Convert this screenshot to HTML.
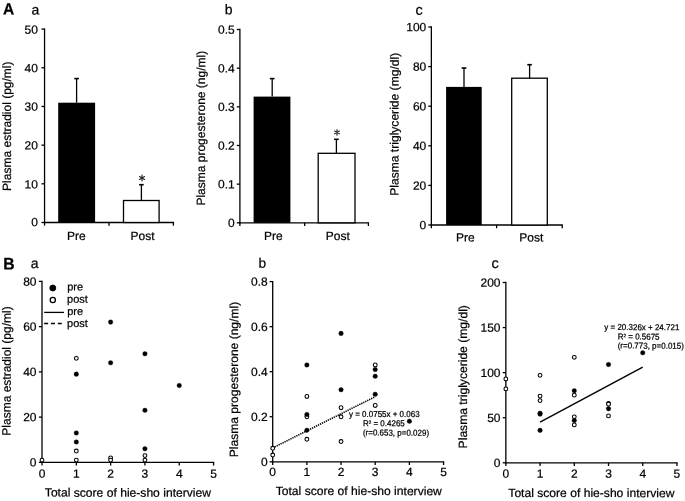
<!DOCTYPE html>
<html><head><meta charset="utf-8"><style>
html,body{margin:0;padding:0;background:#fff;}
svg{display:block;will-change:transform;}
text{font-family:"Liberation Sans", sans-serif;fill:#000;stroke:#000;stroke-width:0.22px;}
</style></head><body>
<svg width="685" height="501" viewBox="0 0 685 501">
<rect width="685" height="501" fill="#fff"/>
<text transform="matrix(1.04,0.001,0,1.09,3.05,14.45)" font-size="15" text-anchor="start" font-weight="bold" stroke="#000" stroke-width="0.2">A</text>
<text transform="matrix(1.0,0.001,0,1.0,31.56,14.45)" font-size="14" text-anchor="start" font-weight="normal" >a</text>
<line x1="44.55" y1="28.45" x2="44.55" y2="223.15" stroke="#000" stroke-width="1.3" />
<line x1="41.45" y1="222.50" x2="44.55" y2="222.50" stroke="#000" stroke-width="1.3" />
<text transform="matrix(1.0,0.001,0,1.0,37.90,226.33)" font-size="12" text-anchor="end" font-weight="normal" >0</text>
<line x1="41.45" y1="183.82" x2="44.55" y2="183.82" stroke="#000" stroke-width="1.3" />
<text transform="matrix(1.0,0.001,0,1.0,37.90,188.53)" font-size="12" text-anchor="end" font-weight="normal" >10</text>
<line x1="41.45" y1="145.14" x2="44.55" y2="145.14" stroke="#000" stroke-width="1.3" />
<text transform="matrix(1.0,0.001,0,1.0,37.90,149.63)" font-size="12" text-anchor="end" font-weight="normal" >20</text>
<line x1="41.45" y1="106.46" x2="44.55" y2="106.46" stroke="#000" stroke-width="1.3" />
<text transform="matrix(1.0,0.001,0,1.0,37.90,110.83)" font-size="12" text-anchor="end" font-weight="normal" >30</text>
<line x1="41.45" y1="67.78" x2="44.55" y2="67.78" stroke="#000" stroke-width="1.3" />
<text transform="matrix(1.0,0.001,0,1.0,37.90,72.33)" font-size="12" text-anchor="end" font-weight="normal" >40</text>
<line x1="41.45" y1="29.10" x2="44.55" y2="29.10" stroke="#000" stroke-width="1.3" />
<text transform="matrix(1.0,0.001,0,1.0,37.90,33.78)" font-size="12" text-anchor="end" font-weight="normal" >50</text>
<line x1="43.90" y1="222.50" x2="174.05" y2="222.50" stroke="#000" stroke-width="1.3" />
<line x1="44.55" y1="222.50" x2="44.55" y2="225.70" stroke="#000" stroke-width="1.3" />
<line x1="109.00" y1="222.50" x2="109.00" y2="225.70" stroke="#000" stroke-width="1.3" />
<line x1="173.40" y1="222.50" x2="173.40" y2="225.70" stroke="#000" stroke-width="1.3" />
<rect x="58.20" y="102.70" width="36.90" height="119.80" fill="#000"/>
<rect x="123.50" y="200.50" width="35.60" height="22.00" fill="#fff" stroke="#000" stroke-width="1.3"/>
<line x1="76.60" y1="102.70" x2="76.60" y2="78.60" stroke="#000" stroke-width="1.3" />
<line x1="74.30" y1="78.60" x2="78.90" y2="78.60" stroke="#000" stroke-width="1.6" />
<line x1="141.40" y1="200.50" x2="141.40" y2="184.70" stroke="#000" stroke-width="1.3" />
<line x1="139.10" y1="184.70" x2="143.70" y2="184.70" stroke="#000" stroke-width="1.6" />
<path d="M142.00,175.10L142.00,180.90M139.49,176.55L144.51,179.45M144.51,176.55L139.49,179.45" stroke="#222" stroke-width="1.1" stroke-linecap="round" fill="none"/>
<text transform="matrix(1.0,0.001,0,1.0,67.02,239.90)" font-size="12" text-anchor="start" font-weight="normal" >Pre</text>
<text transform="matrix(1.0,0.001,0,1.0,130.52,239.90)" font-size="12" text-anchor="start" font-weight="normal" >Post</text>
<text transform="matrix(0.001,-1.0,1,0.001,11.00,190.88)" font-size="12">Plasma estradiol (pg/ml)</text>
<text transform="matrix(1.0,0.001,0,1.0,224.85,14.35)" font-size="14" text-anchor="start" font-weight="normal" >b</text>
<line x1="239.90" y1="28.85" x2="239.90" y2="223.45" stroke="#000" stroke-width="1.3" />
<line x1="236.80" y1="222.80" x2="239.90" y2="222.80" stroke="#000" stroke-width="1.3" />
<text transform="matrix(1.0,0.001,0,1.0,234.70,227.05)" font-size="12" text-anchor="end" font-weight="normal" >0</text>
<line x1="236.80" y1="184.14" x2="239.90" y2="184.14" stroke="#000" stroke-width="1.3" />
<text transform="matrix(1.0,0.001,0,1.0,234.70,188.39)" font-size="12" text-anchor="end" font-weight="normal" >0.1</text>
<line x1="236.80" y1="145.48" x2="239.90" y2="145.48" stroke="#000" stroke-width="1.3" />
<text transform="matrix(1.0,0.001,0,1.0,234.70,149.73)" font-size="12" text-anchor="end" font-weight="normal" >0.2</text>
<line x1="236.80" y1="106.82" x2="239.90" y2="106.82" stroke="#000" stroke-width="1.3" />
<text transform="matrix(1.0,0.001,0,1.0,234.70,111.07)" font-size="12" text-anchor="end" font-weight="normal" >0.3</text>
<line x1="236.80" y1="68.16" x2="239.90" y2="68.16" stroke="#000" stroke-width="1.3" />
<text transform="matrix(1.0,0.001,0,1.0,234.70,72.41)" font-size="12" text-anchor="end" font-weight="normal" >0.4</text>
<line x1="236.80" y1="29.50" x2="239.90" y2="29.50" stroke="#000" stroke-width="1.3" />
<text transform="matrix(1.0,0.001,0,1.0,234.70,33.75)" font-size="12" text-anchor="end" font-weight="normal" >0.5</text>
<line x1="239.25" y1="222.80" x2="369.05" y2="222.80" stroke="#000" stroke-width="1.3" />
<line x1="239.90" y1="222.80" x2="239.90" y2="226.00" stroke="#000" stroke-width="1.3" />
<line x1="304.70" y1="222.80" x2="304.70" y2="226.00" stroke="#000" stroke-width="1.3" />
<line x1="368.40" y1="222.80" x2="368.40" y2="226.00" stroke="#000" stroke-width="1.3" />
<rect x="253.60" y="96.60" width="36.80" height="126.20" fill="#000"/>
<rect x="318.20" y="153.30" width="36.80" height="69.50" fill="#fff" stroke="#000" stroke-width="1.3"/>
<line x1="272.20" y1="96.60" x2="272.20" y2="78.60" stroke="#000" stroke-width="1.3" />
<line x1="269.90" y1="78.60" x2="274.50" y2="78.60" stroke="#000" stroke-width="1.6" />
<line x1="336.40" y1="153.30" x2="336.40" y2="139.30" stroke="#000" stroke-width="1.3" />
<line x1="334.10" y1="139.30" x2="338.70" y2="139.30" stroke="#000" stroke-width="1.6" />
<path d="M337.00,129.60L337.00,135.20M334.58,131.00L339.42,133.80M339.42,131.00L334.58,133.80" stroke="#222" stroke-width="1.1" stroke-linecap="round" fill="none"/>
<text transform="matrix(1.0,0.001,0,1.0,264.02,239.90)" font-size="12" text-anchor="start" font-weight="normal" >Pre</text>
<text transform="matrix(1.0,0.001,0,1.0,325.82,239.90)" font-size="12" text-anchor="start" font-weight="normal" >Post</text>
<text transform="matrix(0.001,-1.0,1,0.001,205.00,205.58)" font-size="12">Plasma progesterone (ng/ml)</text>
<text transform="matrix(1.0,0.001,0,1.0,415.38,14.75)" font-size="14.5" text-anchor="start" font-weight="normal" >c</text>
<line x1="431.35" y1="26.25" x2="431.35" y2="225.65" stroke="#000" stroke-width="1.3" />
<line x1="428.25" y1="225.00" x2="431.35" y2="225.00" stroke="#000" stroke-width="1.3" />
<text transform="matrix(1.0,0.001,0,1.0,426.30,229.25)" font-size="12" text-anchor="end" font-weight="normal" >0</text>
<line x1="428.25" y1="185.40" x2="431.35" y2="185.40" stroke="#000" stroke-width="1.3" />
<text transform="matrix(1.0,0.001,0,1.0,426.30,189.65)" font-size="12" text-anchor="end" font-weight="normal" >20</text>
<line x1="428.25" y1="145.80" x2="431.35" y2="145.80" stroke="#000" stroke-width="1.3" />
<text transform="matrix(1.0,0.001,0,1.0,426.30,150.05)" font-size="12" text-anchor="end" font-weight="normal" >40</text>
<line x1="428.25" y1="106.20" x2="431.35" y2="106.20" stroke="#000" stroke-width="1.3" />
<text transform="matrix(1.0,0.001,0,1.0,426.30,110.45)" font-size="12" text-anchor="end" font-weight="normal" >60</text>
<line x1="428.25" y1="66.60" x2="431.35" y2="66.60" stroke="#000" stroke-width="1.3" />
<text transform="matrix(1.0,0.001,0,1.0,426.30,70.85)" font-size="12" text-anchor="end" font-weight="normal" >80</text>
<line x1="428.25" y1="27.00" x2="431.35" y2="27.00" stroke="#000" stroke-width="1.3" />
<text transform="matrix(1.0,0.001,0,1.0,426.30,31.25)" font-size="12" text-anchor="end" font-weight="normal" >100</text>
<line x1="430.70" y1="225.00" x2="562.85" y2="225.00" stroke="#000" stroke-width="1.3" />
<line x1="431.35" y1="225.00" x2="431.35" y2="228.20" stroke="#000" stroke-width="1.3" />
<line x1="496.60" y1="225.00" x2="496.60" y2="228.20" stroke="#000" stroke-width="1.3" />
<line x1="562.20" y1="225.00" x2="562.20" y2="228.20" stroke="#000" stroke-width="1.3" />
<rect x="446.10" y="86.90" width="35.60" height="138.10" fill="#000"/>
<rect x="511.70" y="78.20" width="35.60" height="146.80" fill="#fff" stroke="#000" stroke-width="1.3"/>
<line x1="464.00" y1="86.90" x2="464.00" y2="68.00" stroke="#000" stroke-width="1.3" />
<line x1="461.70" y1="68.00" x2="466.30" y2="68.00" stroke="#000" stroke-width="1.6" />
<line x1="529.60" y1="78.20" x2="529.60" y2="64.70" stroke="#000" stroke-width="1.3" />
<line x1="527.30" y1="64.70" x2="531.90" y2="64.70" stroke="#000" stroke-width="1.6" />
<text transform="matrix(1.0,0.001,0,1.0,455.92,241.50)" font-size="12" text-anchor="start" font-weight="normal" >Pre</text>
<text transform="matrix(1.0,0.001,0,1.0,519.32,241.50)" font-size="12" text-anchor="start" font-weight="normal" >Post</text>
<text transform="matrix(0.001,-1.008,1,0.001,398.50,195.78)" font-size="12">Plasma triglyceride (mg/dl)</text>
<text transform="matrix(0.98,0.001,0,1.05,3.13,269.50)" font-size="16" text-anchor="start" font-weight="bold" stroke="#000" stroke-width="0.2">B</text>
<text transform="matrix(1.0,0.001,0,1.0,30.81,268.00)" font-size="14" text-anchor="start" font-weight="normal" >a</text>
<line x1="42.00" y1="280.75" x2="42.00" y2="463.00" stroke="#000" stroke-width="1.3" />
<line x1="38.90" y1="462.35" x2="42.00" y2="462.35" stroke="#000" stroke-width="1.3" />
<text transform="matrix(1.0,0.001,0,1.0,36.50,466.60)" font-size="12" text-anchor="end" font-weight="normal" >0</text>
<line x1="38.90" y1="417.11" x2="42.00" y2="417.11" stroke="#000" stroke-width="1.3" />
<text transform="matrix(1.0,0.001,0,1.0,36.50,421.36)" font-size="12" text-anchor="end" font-weight="normal" >20</text>
<line x1="38.90" y1="371.87" x2="42.00" y2="371.87" stroke="#000" stroke-width="1.3" />
<text transform="matrix(1.0,0.001,0,1.0,36.50,376.12)" font-size="12" text-anchor="end" font-weight="normal" >40</text>
<line x1="38.90" y1="326.63" x2="42.00" y2="326.63" stroke="#000" stroke-width="1.3" />
<text transform="matrix(1.0,0.001,0,1.0,36.50,330.88)" font-size="12" text-anchor="end" font-weight="normal" >60</text>
<line x1="38.90" y1="281.39" x2="42.00" y2="281.39" stroke="#000" stroke-width="1.3" />
<text transform="matrix(1.0,0.001,0,1.0,36.50,285.64)" font-size="12" text-anchor="end" font-weight="normal" >80</text>
<line x1="41.35" y1="462.35" x2="214.20" y2="462.35" stroke="#000" stroke-width="1.3" />
<line x1="42.00" y1="462.35" x2="42.00" y2="465.55" stroke="#000" stroke-width="1.3" />
<line x1="76.31" y1="462.35" x2="76.31" y2="465.55" stroke="#000" stroke-width="1.3" />
<line x1="110.62" y1="462.35" x2="110.62" y2="465.55" stroke="#000" stroke-width="1.3" />
<line x1="144.93" y1="462.35" x2="144.93" y2="465.55" stroke="#000" stroke-width="1.3" />
<line x1="179.24" y1="462.35" x2="179.24" y2="465.55" stroke="#000" stroke-width="1.3" />
<line x1="213.55" y1="462.35" x2="213.55" y2="465.55" stroke="#000" stroke-width="1.3" />
<text transform="matrix(1.0,0.001,0,1.0,42.00,477.70)" font-size="12" text-anchor="middle" font-weight="normal" >0</text>
<text transform="matrix(1.0,0.001,0,1.0,76.31,477.70)" font-size="12" text-anchor="middle" font-weight="normal" >1</text>
<text transform="matrix(1.0,0.001,0,1.0,110.62,477.70)" font-size="12" text-anchor="middle" font-weight="normal" >2</text>
<text transform="matrix(1.0,0.001,0,1.0,144.93,477.70)" font-size="12" text-anchor="middle" font-weight="normal" >3</text>
<text transform="matrix(1.0,0.001,0,1.0,179.24,477.70)" font-size="12" text-anchor="middle" font-weight="normal" >4</text>
<text transform="matrix(1.0,0.001,0,1.0,213.55,477.70)" font-size="12" text-anchor="middle" font-weight="normal" >5</text>
<text transform="matrix(1.009,0.001,0,1.0,44.83,496.60)" font-size="12" text-anchor="start" font-weight="normal" >Total score of hie-sho interview</text>
<text transform="matrix(0.001,-1.0,1,0.001,10.60,435.68)" font-size="12">Plasma estradiol (pg/ml)</text>
<circle cx="52.80" cy="288.00" r="3.00" fill="#000" stroke="#000" stroke-width="0.8"/>
<circle cx="52.80" cy="300.00" r="2.60" fill="#fff" stroke="#000" stroke-width="1.3"/>
<text transform="matrix(1.0,0.001,0,1.0,67.20,290.50)" font-size="11" text-anchor="start" font-weight="normal" >pre</text>
<text transform="matrix(1.0,0.001,0,1.0,67.10,302.70)" font-size="11" text-anchor="start" font-weight="normal" >post</text>
<line x1="44.20" y1="312.40" x2="64.00" y2="312.40" stroke="#000" stroke-width="1.3" />
<line x1="44.10" y1="323.50" x2="62.00" y2="323.50" stroke="#000" stroke-width="1.3" stroke-dasharray="4,2.85"/>
<text transform="matrix(1.0,0.001,0,1.0,67.20,314.90)" font-size="11" text-anchor="start" font-weight="normal" >pre</text>
<text transform="matrix(1.0,0.001,0,1.0,67.10,326.90)" font-size="11" text-anchor="start" font-weight="normal" >post</text>
<circle cx="42.00" cy="460.09" r="1.90" fill="#fff" stroke="#000" stroke-width="1.05"/>
<circle cx="76.31" cy="358.30" r="1.90" fill="#fff" stroke="#000" stroke-width="1.05"/>
<circle cx="76.31" cy="451.04" r="1.90" fill="#fff" stroke="#000" stroke-width="1.05"/>
<circle cx="76.31" cy="460.09" r="1.90" fill="#fff" stroke="#000" stroke-width="1.05"/>
<circle cx="110.62" cy="457.83" r="1.90" fill="#fff" stroke="#000" stroke-width="1.05"/>
<circle cx="110.62" cy="460.09" r="1.90" fill="#fff" stroke="#000" stroke-width="1.05"/>
<circle cx="144.93" cy="455.56" r="1.90" fill="#fff" stroke="#000" stroke-width="1.05"/>
<circle cx="144.93" cy="460.09" r="1.90" fill="#fff" stroke="#000" stroke-width="1.05"/>
<circle cx="76.31" cy="374.13" r="2.30" fill="#000" stroke="#000" stroke-width="0.3"/>
<circle cx="76.31" cy="432.94" r="2.30" fill="#000" stroke="#000" stroke-width="0.3"/>
<circle cx="76.31" cy="441.99" r="2.30" fill="#000" stroke="#000" stroke-width="0.3"/>
<circle cx="110.62" cy="322.11" r="2.30" fill="#000" stroke="#000" stroke-width="0.3"/>
<circle cx="110.62" cy="362.82" r="2.30" fill="#000" stroke="#000" stroke-width="0.3"/>
<circle cx="144.93" cy="353.77" r="2.30" fill="#000" stroke="#000" stroke-width="0.3"/>
<circle cx="144.93" cy="410.32" r="2.30" fill="#000" stroke="#000" stroke-width="0.3"/>
<circle cx="144.93" cy="448.78" r="2.30" fill="#000" stroke="#000" stroke-width="0.3"/>
<circle cx="179.24" cy="385.44" r="2.30" fill="#000" stroke="#000" stroke-width="0.3"/>
<text transform="matrix(1.0,0.001,0,1.0,258.40,267.70)" font-size="13.7" text-anchor="start" font-weight="normal" >b</text>
<line x1="272.70" y1="280.95" x2="272.70" y2="462.45" stroke="#000" stroke-width="1.3" />
<line x1="269.60" y1="461.80" x2="272.70" y2="461.80" stroke="#000" stroke-width="1.3" />
<text transform="matrix(1.0,0.001,0,1.0,267.70,466.05)" font-size="12" text-anchor="end" font-weight="normal" >0</text>
<line x1="269.60" y1="416.75" x2="272.70" y2="416.75" stroke="#000" stroke-width="1.3" />
<text transform="matrix(1.0,0.001,0,1.0,267.70,421.00)" font-size="12" text-anchor="end" font-weight="normal" >0.2</text>
<line x1="269.60" y1="371.70" x2="272.70" y2="371.70" stroke="#000" stroke-width="1.3" />
<text transform="matrix(1.0,0.001,0,1.0,267.70,375.95)" font-size="12" text-anchor="end" font-weight="normal" >0.4</text>
<line x1="269.60" y1="326.65" x2="272.70" y2="326.65" stroke="#000" stroke-width="1.3" />
<text transform="matrix(1.0,0.001,0,1.0,267.70,330.90)" font-size="12" text-anchor="end" font-weight="normal" >0.6</text>
<line x1="269.60" y1="281.60" x2="272.70" y2="281.60" stroke="#000" stroke-width="1.3" />
<text transform="matrix(1.0,0.001,0,1.0,267.70,285.85)" font-size="12" text-anchor="end" font-weight="normal" >0.8</text>
<line x1="272.05" y1="461.80" x2="444.20" y2="461.80" stroke="#000" stroke-width="1.3" />
<line x1="272.70" y1="461.80" x2="272.70" y2="465.00" stroke="#000" stroke-width="1.3" />
<line x1="306.87" y1="461.80" x2="306.87" y2="465.00" stroke="#000" stroke-width="1.3" />
<line x1="341.04" y1="461.80" x2="341.04" y2="465.00" stroke="#000" stroke-width="1.3" />
<line x1="375.21" y1="461.80" x2="375.21" y2="465.00" stroke="#000" stroke-width="1.3" />
<line x1="409.38" y1="461.80" x2="409.38" y2="465.00" stroke="#000" stroke-width="1.3" />
<line x1="443.55" y1="461.80" x2="443.55" y2="465.00" stroke="#000" stroke-width="1.3" />
<text transform="matrix(1.0,0.001,0,1.0,272.70,476.00)" font-size="12" text-anchor="middle" font-weight="normal" >0</text>
<text transform="matrix(1.0,0.001,0,1.0,306.87,476.00)" font-size="12" text-anchor="middle" font-weight="normal" >1</text>
<text transform="matrix(1.0,0.001,0,1.0,341.04,476.00)" font-size="12" text-anchor="middle" font-weight="normal" >2</text>
<text transform="matrix(1.0,0.001,0,1.0,375.21,476.00)" font-size="12" text-anchor="middle" font-weight="normal" >3</text>
<text transform="matrix(1.0,0.001,0,1.0,409.38,476.00)" font-size="12" text-anchor="middle" font-weight="normal" >4</text>
<text transform="matrix(1.0,0.001,0,1.0,443.55,476.00)" font-size="12" text-anchor="middle" font-weight="normal" >5</text>
<text transform="matrix(1.009,0.001,0,1.0,275.73,495.00)" font-size="12" text-anchor="start" font-weight="normal" >Total score of hie-sho interview</text>
<text transform="matrix(0.001,-1.005,1,0.001,238.00,457.18)" font-size="12">Plasma progesterone (ng/ml)</text>
<line x1="272.70" y1="447.91" x2="375.21" y2="396.69" stroke="#000" stroke-width="1.6" stroke-dasharray="1.3,0.9"/>
<circle cx="272.70" cy="448.29" r="1.90" fill="#fff" stroke="#000" stroke-width="1.05"/>
<circle cx="272.70" cy="455.04" r="1.90" fill="#fff" stroke="#000" stroke-width="1.05"/>
<circle cx="306.87" cy="396.48" r="1.90" fill="#fff" stroke="#000" stroke-width="1.05"/>
<circle cx="306.87" cy="416.75" r="1.90" fill="#fff" stroke="#000" stroke-width="1.05"/>
<circle cx="306.87" cy="439.28" r="1.90" fill="#fff" stroke="#000" stroke-width="1.05"/>
<circle cx="341.04" cy="407.74" r="1.90" fill="#fff" stroke="#000" stroke-width="1.05"/>
<circle cx="341.04" cy="416.75" r="1.90" fill="#fff" stroke="#000" stroke-width="1.05"/>
<circle cx="341.04" cy="441.53" r="1.90" fill="#fff" stroke="#000" stroke-width="1.05"/>
<circle cx="375.21" cy="364.94" r="1.90" fill="#fff" stroke="#000" stroke-width="1.05"/>
<circle cx="375.21" cy="405.49" r="1.90" fill="#fff" stroke="#000" stroke-width="1.05"/>
<circle cx="306.87" cy="364.94" r="2.30" fill="#000" stroke="#000" stroke-width="0.3"/>
<circle cx="306.87" cy="414.50" r="2.30" fill="#000" stroke="#000" stroke-width="0.3"/>
<circle cx="306.87" cy="430.26" r="2.30" fill="#000" stroke="#000" stroke-width="0.3"/>
<circle cx="341.04" cy="333.41" r="2.30" fill="#000" stroke="#000" stroke-width="0.3"/>
<circle cx="341.04" cy="389.72" r="2.30" fill="#000" stroke="#000" stroke-width="0.3"/>
<circle cx="375.21" cy="369.45" r="2.30" fill="#000" stroke="#000" stroke-width="0.3"/>
<circle cx="375.21" cy="376.21" r="2.30" fill="#000" stroke="#000" stroke-width="0.3"/>
<circle cx="375.21" cy="394.23" r="2.30" fill="#000" stroke="#000" stroke-width="0.3"/>
<circle cx="409.38" cy="421.25" r="2.30" fill="#000" stroke="#000" stroke-width="0.3"/>
<text transform="matrix(1.0,0.001,0,1.08,349.00,416.90)" font-size="8" text-anchor="start" font-weight="normal" stroke="#000" stroke-width="0.25">y = 0.0755x + 0.063</text>
<text transform="matrix(1.0,0.001,0,1.08,362.90,426.30)" font-size="8" text-anchor="start" font-weight="normal" stroke="#000" stroke-width="0.25">R<tspan font-size="4.6" dy="-2.2">2</tspan><tspan dy="2.2"> = 0.4265</tspan></text>
<text transform="matrix(1.0,0.001,0,1.08,362.90,435.60)" font-size="8" text-anchor="start" font-weight="normal" stroke="#000" stroke-width="0.25">(r=0.653, p=0.029)</text>
<text transform="matrix(1.0,0.001,0,1.0,491.38,268.10)" font-size="14.5" text-anchor="start" font-weight="normal" >c</text>
<line x1="505.85" y1="281.85" x2="505.85" y2="463.45" stroke="#000" stroke-width="1.3" />
<line x1="502.75" y1="462.80" x2="505.85" y2="462.80" stroke="#000" stroke-width="1.3" />
<text transform="matrix(1.0,0.001,0,1.0,500.50,467.05)" font-size="12" text-anchor="end" font-weight="normal" >0</text>
<line x1="502.75" y1="417.73" x2="505.85" y2="417.73" stroke="#000" stroke-width="1.3" />
<text transform="matrix(1.0,0.001,0,1.0,500.50,421.98)" font-size="12" text-anchor="end" font-weight="normal" >50</text>
<line x1="502.75" y1="372.65" x2="505.85" y2="372.65" stroke="#000" stroke-width="1.3" />
<text transform="matrix(1.0,0.001,0,1.0,500.50,376.90)" font-size="12" text-anchor="end" font-weight="normal" >100</text>
<line x1="502.75" y1="327.57" x2="505.85" y2="327.57" stroke="#000" stroke-width="1.3" />
<text transform="matrix(1.0,0.001,0,1.0,500.50,331.82)" font-size="12" text-anchor="end" font-weight="normal" >150</text>
<line x1="502.75" y1="282.50" x2="505.85" y2="282.50" stroke="#000" stroke-width="1.3" />
<text transform="matrix(1.0,0.001,0,1.0,500.50,286.75)" font-size="12" text-anchor="end" font-weight="normal" >200</text>
<line x1="505.20" y1="462.80" x2="677.60" y2="462.80" stroke="#000" stroke-width="1.3" />
<line x1="505.85" y1="462.80" x2="505.85" y2="466.00" stroke="#000" stroke-width="1.3" />
<line x1="540.07" y1="462.80" x2="540.07" y2="466.00" stroke="#000" stroke-width="1.3" />
<line x1="574.29" y1="462.80" x2="574.29" y2="466.00" stroke="#000" stroke-width="1.3" />
<line x1="608.51" y1="462.80" x2="608.51" y2="466.00" stroke="#000" stroke-width="1.3" />
<line x1="642.73" y1="462.80" x2="642.73" y2="466.00" stroke="#000" stroke-width="1.3" />
<line x1="676.95" y1="462.80" x2="676.95" y2="466.00" stroke="#000" stroke-width="1.3" />
<text transform="matrix(1.0,0.001,0,1.0,505.85,477.80)" font-size="12" text-anchor="middle" font-weight="normal" >0</text>
<text transform="matrix(1.0,0.001,0,1.0,540.07,477.80)" font-size="12" text-anchor="middle" font-weight="normal" >1</text>
<text transform="matrix(1.0,0.001,0,1.0,574.29,477.80)" font-size="12" text-anchor="middle" font-weight="normal" >2</text>
<text transform="matrix(1.0,0.001,0,1.0,608.51,477.80)" font-size="12" text-anchor="middle" font-weight="normal" >3</text>
<text transform="matrix(1.0,0.001,0,1.0,642.73,477.80)" font-size="12" text-anchor="middle" font-weight="normal" >4</text>
<text transform="matrix(1.0,0.001,0,1.0,676.95,477.80)" font-size="12" text-anchor="middle" font-weight="normal" >5</text>
<text transform="matrix(1.009,0.001,0,1.0,508.33,497.00)" font-size="12" text-anchor="start" font-weight="normal" >Total score of hie-sho interview</text>
<text transform="matrix(0.001,-1.009,1,0.001,467.00,448.38)" font-size="12">Plasma triglyceride (mg/dl)</text>
<line x1="540.07" y1="422.19" x2="642.73" y2="367.22" stroke="#000" stroke-width="1.4" />
<circle cx="505.85" cy="378.96" r="1.90" fill="#fff" stroke="#000" stroke-width="1.05"/>
<circle cx="505.85" cy="388.88" r="1.90" fill="#fff" stroke="#000" stroke-width="1.05"/>
<circle cx="540.07" cy="375.35" r="1.90" fill="#fff" stroke="#000" stroke-width="1.05"/>
<circle cx="540.07" cy="396.09" r="1.90" fill="#fff" stroke="#000" stroke-width="1.05"/>
<circle cx="540.07" cy="400.60" r="1.90" fill="#fff" stroke="#000" stroke-width="1.05"/>
<circle cx="574.29" cy="357.32" r="1.90" fill="#fff" stroke="#000" stroke-width="1.05"/>
<circle cx="574.29" cy="395.19" r="1.90" fill="#fff" stroke="#000" stroke-width="1.05"/>
<circle cx="574.29" cy="416.82" r="1.90" fill="#fff" stroke="#000" stroke-width="1.05"/>
<circle cx="574.29" cy="424.94" r="1.90" fill="#fff" stroke="#000" stroke-width="1.05"/>
<circle cx="608.51" cy="403.30" r="1.90" fill="#fff" stroke="#000" stroke-width="1.05"/>
<circle cx="608.51" cy="404.20" r="1.90" fill="#fff" stroke="#000" stroke-width="1.05"/>
<circle cx="608.51" cy="415.92" r="1.90" fill="#fff" stroke="#000" stroke-width="1.05"/>
<circle cx="540.07" cy="413.22" r="2.30" fill="#000" stroke="#000" stroke-width="0.3"/>
<circle cx="540.07" cy="414.12" r="2.30" fill="#000" stroke="#000" stroke-width="0.3"/>
<circle cx="540.07" cy="430.35" r="2.30" fill="#000" stroke="#000" stroke-width="0.3"/>
<circle cx="574.29" cy="390.68" r="2.30" fill="#000" stroke="#000" stroke-width="0.3"/>
<circle cx="574.29" cy="420.43" r="2.30" fill="#000" stroke="#000" stroke-width="0.3"/>
<circle cx="608.51" cy="364.54" r="2.30" fill="#000" stroke="#000" stroke-width="0.3"/>
<circle cx="608.51" cy="408.71" r="2.30" fill="#000" stroke="#000" stroke-width="0.3"/>
<circle cx="642.73" cy="352.82" r="2.30" fill="#000" stroke="#000" stroke-width="0.3"/>
<text transform="matrix(1.0,0.001,0,1.08,604.30,330.10)" font-size="8" text-anchor="start" font-weight="normal" stroke="#000" stroke-width="0.25">y = 20.326x + 24.721</text>
<text transform="matrix(1.0,0.001,0,1.08,617.70,339.60)" font-size="8" text-anchor="start" font-weight="normal" stroke="#000" stroke-width="0.25">R<tspan font-size="4.6" dy="-2.2">2</tspan><tspan dy="2.2"> = 0.5675</tspan></text>
<text transform="matrix(1.0,0.001,0,1.08,617.70,348.60)" font-size="8" text-anchor="start" font-weight="normal" stroke="#000" stroke-width="0.25">(r=0.773, p=0.015)</text>
</svg>
</body></html>
